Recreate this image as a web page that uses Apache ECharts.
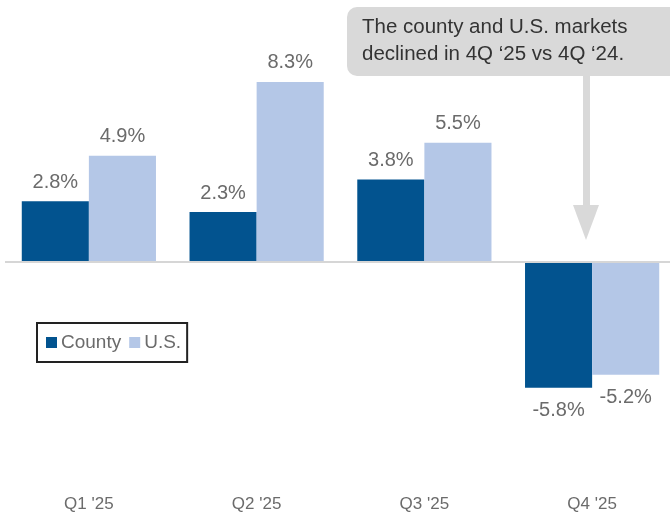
<!DOCTYPE html>
<html>
<head>
    <meta charset="utf-8">
    <title>County vs U.S.</title>
    <script src="https://cdn.jsdelivr.net/npm/echarts@6/dist/echarts.min.js"></script>
    <style>
        html, body { margin: 0; padding: 0; background: #fff; }
        #chart { width: 670px; height: 518px; }
    </style>
</head>
<body>
    <div id="chart"></div>
    <script>
    const quarters = ["Q1 '25", "Q2 '25", "Q3 '25", "Q4 '25"];
    const county = [2.8, 2.3, 3.8, -5.8];
    const us = [4.9, 8.3, 5.5, -5.2];

    const FONT = '"Liberation Sans", Arial, sans-serif';
    const GRAY = '#6b6b6b';

    // negative bars get their label under the bar
    function withLabels(values) {
        return values.map(v => ({
            value: v,
            label: v < 0 ? { position: 'bottom', distance: 13 } : { position: 'top', distance: 9 }
        }));
    }

    const chart = echarts.init(document.getElementById('chart'));
    chart.setOption({
        animation: false,
        textStyle: { fontFamily: FONT },
        grid: { left: 5, width: 671, top: 45, bottom: 39, outerBoundsMode: 'none' },
        legend: {
            left: 37, top: 323,
            padding: [10, 6, 10, 9],
            borderColor: '#222', borderWidth: 2,
            itemWidth: 11, itemHeight: 11, itemGap: 8,
            icon: 'rect',
            textStyle: { fontSize: 19, color: GRAY, fontFamily: FONT, padding: [0, 0, 0, -1] },
            data: ['County', 'U.S.']
        },
        xAxis: {
            type: 'category',
            data: quarters,
            axisLine: { show: false, onZero: false },
            axisTick: { show: false },
            axisLabel: { fontSize: 17, color: GRAY, margin: 17 }
        },
        yAxis: {
            type: 'value',
            min: -10, max: 10,
            show: false,
            splitLine: { show: false }
        },
        series: [
            {
                name: 'County', type: 'bar',
                data: withLabels(county),
                barGap: '0%', barCategoryGap: '20%',
                itemStyle: { color: '#02538f' },
                label: {
                    show: true, fontSize: 20, color: GRAY,
                    formatter: p => p.value.toFixed(1) + '%'
                },
                markLine: {
                    silent: true, symbol: 'none',
                    lineStyle: { color: '#d6d6d6', width: 2, type: 'solid' },
                    label: { show: false },
                    data: [{ yAxis: 0 }]
                }
            },
            {
                name: 'U.S.', type: 'bar',
                data: withLabels(us),
                itemStyle: { color: '#b4c7e7' },
                label: {
                    show: true, fontSize: 20, color: GRAY,
                    formatter: p => p.value.toFixed(1) + '%'
                }
            }
        ],
        graphic: [
            {
                type: 'rect',
                shape: { x: 347, y: 7, width: 340, height: 69, r: 10 },
                style: { fill: '#d9d9d9' }
            },
            {
                type: 'text',
                x: 362, y: 14,
                style: {
                    text: 'The county and U.S. markets\ndeclined in 4Q \u201825 vs 4Q \u201824.',
                    fontSize: 20.5, lineHeight: 27, fill: '#333', fontFamily: FONT
                }
            },
            {
                type: 'rect',
                shape: { x: 583, y: 76, width: 7, height: 130 },
                style: { fill: '#d9d9d9' }
            },
            {
                type: 'polygon',
                shape: { points: [[573, 205], [599, 205], [586, 240]] },
                style: { fill: '#d9d9d9' }
            }
        ]
    });
    </script>
</body>
</html>
